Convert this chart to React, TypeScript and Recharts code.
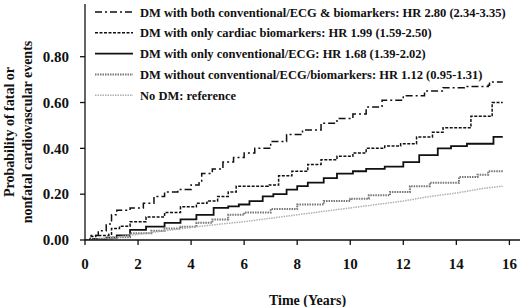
import { Line, LineChart, XAxis, YAxis } from 'recharts'

// Kaplan-Meier style cumulative incidence ([years, probability])
const bothCurve: [number, number][] = [
  [0, 0], [0.2, 0.02], [0.5, 0.04], [0.8, 0.07], [1.0, 0.11], [1.2, 0.13], [1.7, 0.14],
  [2.2, 0.16], [2.6, 0.19], [3.0, 0.21], [3.5, 0.22], [4.0, 0.24], [4.3, 0.25], [4.4, 0.29],
  [4.8, 0.31], [5.2, 0.34], [5.6, 0.36], [6.0, 0.38], [6.4, 0.4], [7.0, 0.43], [7.6, 0.46],
  [8.2, 0.48], [8.9, 0.51], [9.5, 0.53], [10.1, 0.55], [10.6, 0.58], [11.2, 0.61], [12.0, 0.63],
  [12.8, 0.65], [13.5, 0.665], [14.3, 0.67], [15.2, 0.675], [15.25, 0.69], [15.75, 0.69],
]
const cardiacCurve: [number, number][] = [
  [0, 0], [0.2, 0.015], [0.4, 0.02], [0.9, 0.025], [1.0, 0.05], [1.3, 0.06], [1.7, 0.08],
  [2.3, 0.1], [3.0, 0.12], [3.6, 0.145], [4.2, 0.16], [4.6, 0.17], [5.0, 0.19], [5.4, 0.21],
  [5.7, 0.235], [6.9, 0.24], [7.3, 0.28], [7.8, 0.3], [8.4, 0.33], [8.9, 0.35], [9.5, 0.365],
  [10.1, 0.38], [10.6, 0.4], [11.3, 0.41], [11.9, 0.42], [12.5, 0.45], [13.1, 0.47], [13.5, 0.49],
  [14.55, 0.54], [15.35, 0.6], [15.75, 0.6],
]
const conventionalCurve: [number, number][] = [
  [0, 0], [0.3, 0.005], [0.8, 0.01], [1.2, 0.02], [1.7, 0.044], [2.3, 0.058], [3.0, 0.075],
  [3.6, 0.09], [4.2, 0.11], [4.85, 0.14], [5.4, 0.147], [5.8, 0.155], [6.2, 0.17], [6.7, 0.19],
  [7.1, 0.2], [7.6, 0.22], [8.0, 0.235], [8.4, 0.25], [9.0, 0.27], [9.5, 0.29], [10.1, 0.3],
  [10.6, 0.31], [11.3, 0.32], [12.0, 0.34], [12.6, 0.37], [13.3, 0.4], [13.8, 0.41], [14.4, 0.42],
  [15.4, 0.45], [15.75, 0.45],
]
const withoutCurve: [number, number][] = [
  [0, 0], [0.5, 0.005], [1.0, 0.012], [1.7, 0.03], [2.5, 0.04], [3.0, 0.05], [3.6, 0.058],
  [4.2, 0.075], [4.8, 0.09], [5.4, 0.11], [6.0, 0.12], [7.0, 0.135], [8.0, 0.155], [9.0, 0.17],
  [10.0, 0.18], [10.7, 0.195], [11.5, 0.21], [12.25, 0.235], [13.0, 0.25], [14.1, 0.275],
  [14.8, 0.285], [15.2, 0.3], [15.75, 0.3],
]
const noDmCurve: [number, number][] = [
  [0, 0], [1, 0.01], [2, 0.025], [3, 0.04], [4, 0.055], [5, 0.068], [6, 0.08], [7, 0.095],
  [8, 0.11], [9, 0.125], [10, 0.14], [11, 0.155], [12, 0.17], [13, 0.19], [14, 0.205],
  [15, 0.225], [15.75, 0.235],
]

const seriesNames = [
  'DM with both conventional/ECG & biomarkers: HR 2.80 (2.34-3.35)',
  'DM with only cardiac biomarkers: HR 1.99 (1.59-2.50)',
  'DM with only conventional/ECG: HR 1.68 (1.39-2.02)',
  'DM without conventional/ECG/biomarkers: HR 1.12 (0.95-1.31)',
  'No DM: reference',
]
const xTicks = [0, 2, 4, 6, 8, 10, 12, 14, 16]
const yTicks = [0, 0.2, 0.4, 0.6, 0.8]

const FONT = '"Liberation Serif", "Times New Roman", serif'

const styles = [
  { stroke: '#111', width: 1.5, dash: '7 3 2 3' },
  { stroke: '#111', width: 1.5, dash: '3 1.5' },
  { stroke: '#111', width: 1.8, dash: undefined },
  { stroke: '#777', width: 2, dash: '1.5 1' },
  { stroke: '#b0b0b0', width: 1.5, dash: '1.5 1' },
]

const curves = [bothCurve, cardiacCurve, conventionalCurve, withoutCurve, noDmCurve]

function toRows(points: [number, number][]) {
  return points.map(([t, v]) => ({ t, v }))
}

function LegendBox() {
  return (
    <svg width={430} height={106} style={{ position: 'absolute', left: 90, top: 0 }}>
      {seriesNames.map((name, i) => {
        const y = 12 + i * 20.8
        return (
          <g key={name}>
            <line
              x1={5}
              x2={43}
              y1={y}
              y2={y}
              stroke={styles[i].stroke}
              strokeWidth={styles[i].width}
              strokeDasharray={styles[i].dash}
            />
            <text x={50} y={y + 4.5} fontFamily={FONT} fontWeight="bold" fontSize={12.5} fill="#111">
              {name}
            </text>
          </g>
        )
      })}
    </svg>
  )
}

export default function App() {
  return (
    <div style={{ position: 'fixed', left: 0, top: 0, width: 520, height: 307, background: '#fff' }}>
      <LineChart
        width={520}
        height={307}
        margin={{ top: 4, right: 0, bottom: 0, left: 0 }}
        style={{ fontFamily: FONT }}
      >
        <XAxis
          type="number"
          dataKey="t"
          domain={[0, 16.4]}
          ticks={xTicks}
          allowDataOverflow
          height={67}
          tick={{ fontSize: 15, fontWeight: 'bold', fill: '#111', fontFamily: FONT }}
          stroke="#111"
          strokeWidth={1.3}
          tickSize={5}
          tickMargin={13}
          label={{
            value: 'Time (Years)',
            position: 'insideBottom',
            offset: 2,
            fontSize: 14,
            fontWeight: 'bold',
            fill: '#111',
            fontFamily: FONT,
            dx: 5,
          }}
        />
        <YAxis
          type="number"
          dataKey="v"
          domain={[0, 1.03]}
          ticks={yTicks}
          allowDataOverflow
          width={85}
          tickFormatter={(v: number) => v.toFixed(2)}
          tick={{ fontSize: 15, fontWeight: 'bold', fill: '#111', fontFamily: FONT }}
          stroke="#111"
          strokeWidth={1.3}
          tickSize={5}
          tickMargin={11}
          label={{
            content: () => (
              <g transform="translate(0,132) rotate(-90)">
                <text x={0} y={14} textAnchor="middle" fontSize={14} fontWeight="bold" fill="#111" fontFamily={FONT}>
                  Probability of fatal or
                </text>
                <text x={0} y={32} textAnchor="middle" fontSize={14} fontWeight="bold" fill="#111" fontFamily={FONT}>
                  nonfatal cardiovascular events
                </text>
              </g>
            ),
          }}
        />
        {curves.map((points, i) => (
          <Line
            key={seriesNames[i]}
            data={toRows(points)}
            dataKey="v"
            name={seriesNames[i]}
            type={i === 4 ? 'linear' : 'stepAfter'}
            stroke={styles[i].stroke}
            strokeWidth={styles[i].width}
            strokeDasharray={styles[i].dash}
            dot={false}
            activeDot={false}
            isAnimationActive={false}
          />
        ))}
      </LineChart>
      <LegendBox />
    </div>
  )
}
